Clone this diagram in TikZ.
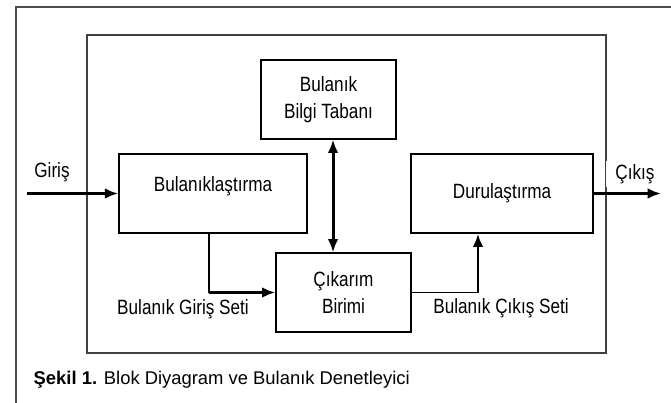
\documentclass[tikz,border=0pt]{standalone}
\usepackage{fontspec}
\setmainfont{Liberation Sans}
\newfontfamily\diafont{Liberation Sans}[FakeStretch=0.83]
\usepackage{tikz}
\usetikzlibrary{arrows.meta}
\tikzset{
  box/.style={draw=black, line width=1.2pt, fill=white, align=center,
    inner sep=2pt, font=\diafont\fontsize{15.5}{20}\selectfont},
  lbl/.style={fill=white, inner sep=1pt, font=\diafont\fontsize{15.5}{18}\selectfont},
  arr/.style={-{Latex[length=10pt,width=8pt]}, line width=2.2pt},
  darr/.style={{Latex[length=10pt,width=8pt]}-{Latex[length=10pt,width=8pt]},
    line width=2.2pt},
  thinl/.style={line width=1pt}
}

\begin{document}
\begin{tikzpicture}[x=0.75pt,y=-0.75pt]
\useasboundingbox (0,0) rectangle (671,403);
\draw[black!70, line width=1.2pt] (671,7) -- (16,7) -- (16,403);
\draw[black!75, line width=1pt] (87,35) rectangle (606,353);

\node[box, minimum width=101pt, minimum height=59pt] (bilgi) at (328.5,99.5) {Bulanık\\
Bilgi Tabanı};
\node[box, minimum width=141pt, minimum height=59pt, text depth=14pt] (bul) at (213,193.5)
{Bulanıklaştırma};
\node[box, minimum width=136.5pt, minimum height=59pt] (dur) at (502,193.5) {Durulaştırma};
\node[box, minimum width=101pt, minimum height=59pt] (cik) at (343.5,292.5) {Çıkarım\\
Birimi};

\coordinate (in) at (27,193.5);
\coordinate (out) at (661,193.5);

\draw[arr] (in) -- (bul);
\draw[darr] ([xshift=3.4pt]bilgi.south) -- ([xshift=3.4pt]bilgi.south |- cik.north);
\draw[thinl] ([xshift=-3pt]bul.south) -- ([xshift=-3pt]bul.south |- cik.west);
\draw[arr] ([xshift=-3pt]bul.south |- cik.west) -- (cik.west);
\draw[thinl] (cik.east) -- ([xshift=-18pt]dur.south |- cik.east);
\draw[arr] ([xshift=-18pt]dur.south |- cik.east) -- ([xshift=-18pt]dur.south);

\node[lbl] (giris) at (52,172) {Giriş};
\node[lbl, minimum width=43.5pt, minimum height=19pt] (cikis) at (635,174) {Çıkış};
\draw[arr] (dur) -- (out);

\node[lbl] (gset) at (183,309) {Bulanık Giriş Seti};
\node[lbl] (cset) at (501,308) {Bulanık Çıkış Seti};

\node[anchor=west, font=\fontsize{13.8}{16}\selectfont] (cap) at (29,380)
{\textbf{Şekil 1.} Blok Diyagram ve Bulanık Denetleyici};
\end{tikzpicture}
\end{document}
